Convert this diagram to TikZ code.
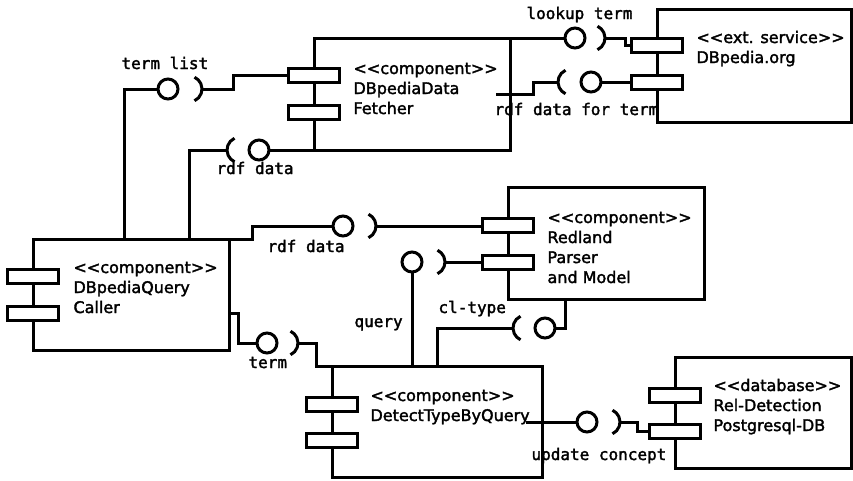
\documentclass[tikz,border=0pt]{standalone}
\usepackage{fontspec}
\newfontfamily\compfont[FakeBold=2]{DejaVu Sans}
\newfontfamily\lblfont[FakeBold=2]{DejaVu Sans Mono}
\usepackage{tikz}
\newcommand\st[1]{<\kern0pt<#1>\kern0pt>}

\begin{document}
\begin{tikzpicture}[x=1pt,y=-1pt,line width=3pt,
  comp/.style={draw,anchor=north west,inner sep=0pt,outer sep=0pt},
  port/.style={draw,fill=white,minimum width=51pt,minimum height=14pt,inner sep=0pt,outer sep=0pt},
  ball/.style={draw,circle,minimum size=20pt,inner sep=0pt,outer sep=0pt},
  ctext/.style={anchor=base west,align=left,inner sep=0pt,font=\compfont\fontsize{16}{20}\selectfont},
  lbl/.style={anchor=base west,inner sep=0pt,font=\lblfont\fontsize{16}{20}\selectfont},
  sockR/.pic={\draw (-13pt,0pt) ++(-65:13pt) arc[start angle=-65,end angle=65,radius=13pt];},
  sockL/.pic={\draw (13pt,0pt) ++(115:13pt) arc[start angle=115,end angle=245,radius=13pt];}]
 \useasboundingbox (0,0) rectangle (853,480);
 \node[comp,minimum width=196pt,minimum height=112pt] (fetch) at (314,38) {};
 \node[comp,minimum width=194pt,minimum height=113pt] (dbp) at (657,9) {};
 \node[comp,minimum width=196pt,minimum height=112pt] (red) at (508,187) {};
 \node[comp,minimum width=196pt,minimum height=111pt] (call) at (33,239) {};
 \node[comp,minimum width=210pt,minimum height=111pt] (det) at (332,366) {};
 \node[comp,minimum width=176pt,minimum height=111pt] (db) at (675,357) {};

 \node[port] (fetch-p1) at (314,75) {};
 \node[port] (fetch-p2) at (314,112) {};
 \node[port] (dbp-p1) at (657,45) {};
 \node[port] (dbp-p2) at (657,82) {};
 \node[port] (red-p1) at (508,225) {};
 \node[port] (red-p2) at (508,262) {};
 \node[port] (call-p1) at (33,276) {};
 \node[port] (call-p2) at (33,313) {};
 \node[port] (det-p1) at (332,404) {};
 \node[port] (det-p2) at (332,440) {};
 \node[port] (db-p1) at (675,395) {};
 \node[port] (db-p2) at (675,431) {};

 \node[ball] (b-termlist) at (168,89) {};
 \node[ball] (b-rdf1) at (259,150) {};
 \node[ball] (b-lookup) at (575,38) {};
 \node[ball] (b-rdf2) at (591,82) {};
 \node[ball] (b-rdf3) at (343,226) {};
 \node[ball] (b-query) at (412,262) {};
 \node[ball] (b-cltype) at (545,328) {};
 \node[ball] (b-term) at (267,343) {};
 \node[ball] (b-update) at (587,422) {};

 \coordinate (s-termlist) at (202,89);
 \coordinate (s-rdf1) at (227,150);
 \coordinate (s-lookup) at (605,38);
 \coordinate (s-rdf2) at (558,82);
 \coordinate (s-rdf3) at (376,226);
 \coordinate (s-query) at (445,262);
 \coordinate (s-cltype) at (513,328);
 \coordinate (s-term) at (298,343);
 \coordinate (s-update) at (620,422);
 \pic at (s-termlist) {sockR};
 \pic at (s-rdf1) {sockL};
 \pic at (s-lookup) {sockR};
 \pic at (s-rdf2) {sockL};
 \pic at (s-rdf3) {sockR};
 \pic at (s-query) {sockR};
 \pic at (s-cltype) {sockL};
 \pic at (s-term) {sockR};
 \pic at (s-update) {sockR};

 \draw ([xshift=-7pt]call.north) |- (b-termlist);
 \draw (s-termlist) -- ++(31,0) |- (fetch-p1);
 \draw (fetch.south west) -- (b-rdf1);
 \draw (s-rdf1) -| ([xshift=58pt]call.north);
 \draw (fetch.north east) -- (b-lookup);
 \draw (s-lookup) -- ++(20,0) |- (dbp-p1);
 \draw ([xshift=-14pt]fetch.east) -- ++(37,0) |- (s-rdf2);
 \draw (b-rdf2) -- (dbp-p2);
 \draw (call.north east) -- ++(23,0) |- (b-rdf3);
 \draw (s-rdf3) -- (red-p1.west |- s-rdf3);
 \draw (b-query) -- (b-query |- det.north);
 \draw (s-query) -- (red-p2);
 \draw ([xshift=-41pt]red.south) |- (b-cltype);
 \draw (s-cltype) -| (det.north);
 \draw (call.east |- call-p2) -- ++(9,0) |- (b-term);
 \draw (s-term) -- ++(18,0) |- (det.north west);
 \draw ([xshift=-16pt]det.east |- b-update) -- (b-update);
 \draw (s-update) -- ++(17,0) |- (db-p2);

 \node[ctext] (t-fetch) at (352,114) {\st{component}\\DBpediaData\\Fetcher};
 \node[ctext] (t-dbp) at (695,63) {\st{ext. service}\\DBpedia.org};
 \node[ctext] (t-red) at (546,283) {\st{component}\\Redland\\Parser\\and Model};
 \node[ctext] (t-call) at (72,313) {\st{component}\\DBpediaQuery\\Caller};
 \node[ctext] (t-det) at (369,421) {\st{component}\\DetectTypeByQuery};
 \node[ctext] (t-db) at (712,431) {\st{database}\\Rel-Detection\\Postgresql-DB};

 \node[lbl] (l-termlist) at (120,69) {term list};
 \node[lbl] (l-rdf1) at (215,174) {rdf data};
 \node[lbl] (l-lookup) at (525,19) {lookup term};
 \node[lbl] (l-rdf2) at (493,115) {rdf data for term};
 \node[lbl] (l-rdf3) at (266,252) {rdf data};
 \node[lbl] (l-query) at (353,327) {query};
 \node[lbl] (l-cltype) at (437,313) {cl-type};
 \node[lbl] (l-term) at (247,368) {term};
 \node[lbl] (l-update) at (530,460) {update concept};
\end{tikzpicture}
\end{document}
